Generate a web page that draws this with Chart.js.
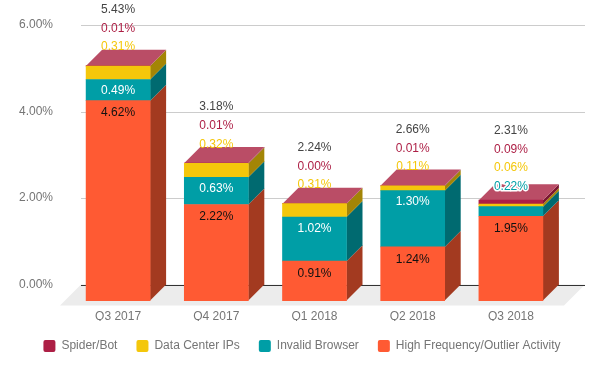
<!DOCTYPE html>
<html>
<head>
<meta charset="utf-8">
<style>html,body{margin:0;padding:0;background:#fff}canvas{display:block}</style>
<script src="https://cdn.jsdelivr.net/npm/chart.js@4"></script>
</head>
<body>
<canvas id="c" width="604" height="371"></canvas>
<script>
const categories = ['Q3 2017','Q4 2017','Q1 2018','Q2 2018','Q3 2018'];
const highFrequency = [4.62,2.22,0.91,1.24,1.95];
const invalidBrowser = [0.49,0.63,1.02,1.30,0.22];
const dataCenter = [0.31,0.32,0.31,0.11,0.06];
const spiderBot = [0.01,0.01,0.00,0.01,0.09];
const totals = [5.43,3.18,2.24,2.66,2.31];
const yTicks = [0,2,4,6];

const DEPTH = 16, FLOOR = 21;
const GRID_L = 81, GRID_R = 585;
const FONT = '12px "Liberation Sans", Arial, sans-serif';
const TOP_FACE = '#ba4d66';
const sideColors = ['#a33a20','#006a70','#a38506','#7a1631'];
const labelColors = ['#111111','#ffffff','#f4c70b','#ad1f45'];
const altColors = ['#111111','#009ea6','#f4c70b','#ad1f45'];

function poly(ctx, pts, fill){
  ctx.beginPath();
  pts.forEach((p,i)=> i?ctx.lineTo(p[0],p[1]):ctx.moveTo(p[0],p[1]));
  ctx.closePath(); ctx.fillStyle=fill; ctx.fill();
}

const scene = {
  id:'scene',
  beforeDatasetsDraw(chart){
    const ctx=chart.ctx, y=chart.scales.y;
    ctx.save();
    const y0=y.getPixelForValue(0);
    poly(ctx,[[GRID_L,y0],[GRID_R,y0],[GRID_R-FLOOR,y0+FLOOR],[GRID_L-FLOOR,y0+FLOOR]],'#ececec');
    yTicks.forEach(t=>{
      const py=Math.round(y.getPixelForValue(t))+0.5;
      ctx.strokeStyle=t===0?'#333333':'#cccccc'; ctx.lineWidth=1;
      ctx.beginPath(); ctx.moveTo(GRID_L,py); ctx.lineTo(GRID_R,py); ctx.stroke();
    });
    categories.forEach((_,i)=>{
      let top=null;
      chart.data.datasets.forEach((ds,d)=>{
        const el=chart.getDatasetMeta(d).data[i];
        const r=el.x+el.width/2, l=el.x-el.width/2;
        if(el.base-el.y>0.01){
          poly(ctx,[[r,el.y],[r+DEPTH,el.y-DEPTH],[r+DEPTH,el.base-DEPTH],[r,el.base]],sideColors[d]);
        }
        top={l,r,y:el.y};
      });
      poly(ctx,[[top.l,top.y],[top.l+DEPTH,top.y-DEPTH],[top.r+DEPTH,top.y-DEPTH],[top.r,top.y]],TOP_FACE);
    });
    ctx.restore();
  },
  afterDatasetsDraw(chart){
    const ctx=chart.ctx;
    ctx.save();
    ctx.font=FONT; ctx.textAlign='center'; ctx.textBaseline='middle';
    categories.forEach((_,i)=>{
      const els=chart.data.datasets.map((ds,d)=>chart.getDatasetMeta(d).data[i]);
      const cx=els[0].x, backTop=els[3].y-DEPTH;
      const outside=[];
      els.forEach((el,d)=>{
        const v=chart.data.datasets[d].data[i];
        const txt=v.toFixed(2)+'%';
        if(el.base-el.y>=15){
          ctx.fillStyle=labelColors[d];
          ctx.fillText(txt,cx,el.y+(d===0?12.5:11.5));
        } else outside.push({txt,d});
      });
      const crowded=outside.length>2;
      let ly=backTop-2.5+(crowded?5:0);
      outside.forEach(o=>{
        if(o.d===1){
          ctx.lineWidth=3; ctx.strokeStyle='#ffffff'; ctx.lineJoin='round';
          ctx.strokeText(o.txt,cx,ly);
        }
        ctx.fillStyle=altColors[o.d];
        ctx.fillText(o.txt,cx,ly);
        ly-=18.7;
      });
      ctx.fillStyle='#444444';
      ctx.fillText(totals[i].toFixed(2)+'%',cx,ly);
    });
    ctx.restore();
  }
};

new Chart(document.getElementById('c'),{
  type:'bar',
  data:{
    labels:categories,
    datasets:[
      {label:'High Frequency/Outlier Activity',data:highFrequency,backgroundColor:'#ff5a33'},
      {label:'Invalid Browser',data:invalidBrowser,backgroundColor:'#009ea6'},
      {label:'Data Center IPs',data:dataCenter,backgroundColor:'#f4c70b'},
      {label:'Spider/Bot',data:spiderBot,backgroundColor:'#ad1f45'}
    ].map(d=>Object.assign(d,{yAxisID:'yFront',barThickness:64,clip:false,borderWidth:0}))
  },
  options:{
    responsive:false,animation:false,
    layout:{padding:{left:0,right:0,top:25,bottom:9}},
    plugins:{
      tooltip:{enabled:false},
      legend:{
        position:'bottom',reverse:true,
        labels:{boxWidth:12,boxHeight:12,padding:19,color:'#757575',useBorderRadius:true,borderRadius:2,
          font:{family:'"Liberation Sans", Arial, sans-serif',size:12}}
      }
    },
    scales:{
      x:{
        stacked:true,
        afterFit(s){s.height-=28;},
        grid:{display:false,drawTicks:false},border:{display:false},
        ticks:{color:'#757575',padding:25,maxRotation:0,font:{family:'"Liberation Sans", Arial, sans-serif',size:12}}
      },
      y:{
        position:'left',min:0,max:6,
        afterBuildTicks(s){s.ticks=yTicks.map(v=>({value:v}));},
        afterFit(s){s.width=69;},
        grid:{display:false,drawTicks:false},border:{display:false},
        ticks:{color:'#757575',padding:16,callback:v=>v.toFixed(2)+'%',font:{family:'"Liberation Sans", Arial, sans-serif',size:12}}
      },
      spacer:{
        position:'right',display:true,
        afterFit(s){s.width=44;},
        grid:{display:false,drawTicks:false},border:{display:false},
        ticks:{display:false}
      },
      yFront:{
        display:false,stacked:true,
        min:16/(260/6),max:6+16/(260/6)
      }
    }
  },
  plugins:[scene]
});
</script>
</body>
</html>
